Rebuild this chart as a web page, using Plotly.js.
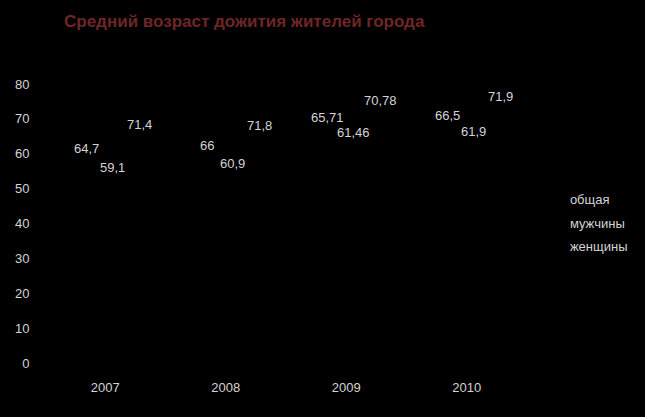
<!DOCTYPE html>
<html>
<head>
<meta charset="utf-8">
<script src="https://cdn.plot.ly/plotly-3.0.1.min.js"></script>
<style>html,body{margin:0;padding:0;background:#000;}#chart{width:645px;height:417px;}</style>
</head>
<body>
<div id="chart"></div>
<script>
// ---- data ----
const years = ['2007', '2008', '2009', '2010'];
const seriesNames = ['общая', 'мужчины', 'женщины'];
const overall = [64.7, 66, 65.71, 66.5];
const men = [59.1, 60.9, 61.46, 61.9];
const women = [71.4, 71.8, 70.78, 71.9];
const yTicks = [0, 10, 20, 30, 40, 50, 60, 70, 80];
const titleText = 'Средний возраст дожития жителей города';

// ---- layout constants (not data) ----
const seriesValues = [overall, men, women];
const barWidth = 0.21;
const barCenters = [-0.158, 0.058, 0.282];   // category-unit offsets of bar centres
const labelYShift = [-11, -13, 16, 16];       // px shift of value labels per year
const txtColor = '#d4d4d4';
const fontFam = 'Liberation Sans, Arial, sans-serif';

const traces = seriesValues.map((vals, s) => ({
  type: 'bar',
  name: seriesNames[s],
  x: years,
  y: vals,
  width: barWidth,
  offset: barCenters[s] - barWidth / 2,
  marker: {color: '#000000', line: {width: 0}},
  legendgroup: 'g' + s,
  hoverinfo: 'skip'
}));

const fmt = v => String(v).replace('.', ',');
const annotations = [];
seriesValues.forEach((vals, s) => {
  vals.forEach((v, i) => {
    annotations.push({
      x: i + barCenters[s], y: v, xref: 'x', yref: 'y',
      text: fmt(v), showarrow: false,
      xanchor: 'center', yanchor: 'middle',
      yshift: labelYShift[i],
      font: {family: fontFam, size: 13, color: txtColor}
    });
  });
});

const layout = {
  width: 645, height: 417,
  paper_bgcolor: '#000000', plot_bgcolor: '#000000',
  margin: {l: 45, r: 118, t: 84, b: 54},
  title: {
    text: titleText, xref: 'container', yref: 'container',
    x: 64 / 645, xanchor: 'left', y: 1 - 21 / 417, yanchor: 'middle',
    font: {family: fontFam, size: 17, color: '#6e2626', weight: 'bold'}
  },
  barmode: 'group',
  showlegend: true,
  legend: {
    x: 1.006, xanchor: 'left', y: 0.643, yanchor: 'top',
    traceorder: 'grouped', tracegroupgap: 4,
    font: {family: fontFam, size: 13, color: txtColor},
    bgcolor: 'rgba(0,0,0,0)'
  },
  xaxis: {
    type: 'category', range: [-0.5, 3.5],
    showgrid: false, zeroline: false, showline: false,
    ticks: 'outside', ticklen: 12, tickcolor: '#000000',
    tickfont: {family: fontFam, size: 13, color: txtColor}
  },
  yaxis: {
    range: [0, 80], tickvals: yTicks,
    showgrid: false, zeroline: false, showline: false,
    ticks: 'outside', ticklen: 12, tickcolor: '#000000',
    tickfont: {family: fontFam, size: 13, color: txtColor}
  },
  annotations: annotations,
  separators: ', '
};

Plotly.newPlot('chart', traces, layout, {displayModeBar: false, staticPlot: true});
</script>
</body>
</html>
